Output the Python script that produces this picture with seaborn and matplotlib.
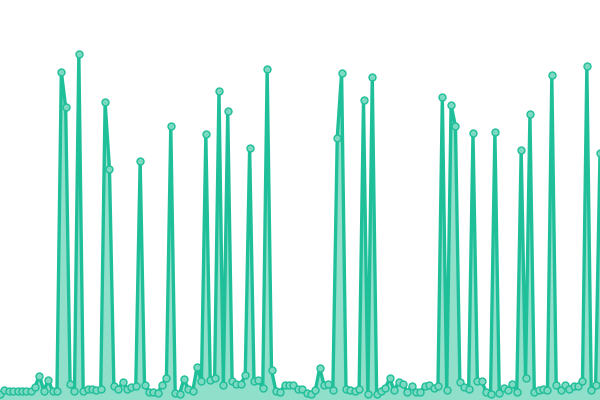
import matplotlib
matplotlib.use("Agg")
import matplotlib.pyplot as plt
import seaborn as sns
import pandas as pd
import numpy as np

sns.set_theme(style="white")

idx = list(range(138))
values = [
    6, 10.5, 9.3, 9.3, 9.3, 9.3, 9.3, 9.3, 13.3, 24.3,
    9.3, 20, 9.3, 9, 328.3, 292.7, 16, 9, 346.3, 9.3,
    11, 10.7, 10.3, 11.3, 297.7, 231, 14, 10.7, 18.3, 11,
    12.7, 13.7, 239.3, 15, 8.3, 7.7, 7.3, 15, 22.3, 274.3,
    7.3, 6.3, 21, 11, 9, 33, 19, 266, 20, 21.7,
    309, 15, 288.7, 19, 15.7, 15.7, 25, 252.3, 19, 19.7,
    12.3, 331, 29.7, 9, 8.3, 15, 15.3, 15, 11, 10.7,
    7.3, 6.3, 9.7, 32, 15, 15.7, 9.7, 262.3, 327.3, 11.3,
    10.3, 9, 11, 300, 6.3, 323.3, 6, 9, 12.3, 21.7,
    9.7, 17.7, 16.3, 8, 14.3, 8.3, 8.3, 14.3, 15, 12,
    14.3, 303, 10, 295, 273.7, 18.3, 13, 10.7, 267.3, 19,
    18.7, 8.3, 6, 268.3, 6.7, 11.7, 10.3, 16.3, 8.3, 250.3,
    22.3, 286, 7.7, 9.7, 11, 10.3, 325, 15, 9.7, 15,
    11.3, 14, 14.3, 19, 334, 10.3, 14.7, 246.7,
]

df = pd.DataFrame({"i": idx, "v": values})

line_c = "#1fbf99"
fill_c = "#8fdfcb"
face_c = "#7dd9c1"

fig = plt.figure(figsize=(6, 4), dpi=100)
ax = fig.add_axes([0, 0, 1, 1])
ax.fill_between(df["i"], df["v"], 0, color=fill_c, alpha=1.0, lw=0, zorder=1)
sns.lineplot(data=df, x="i", y="v", ax=ax, color=line_c, lw=2.4, zorder=2,
             marker="o", markersize=5, markerfacecolor=face_c,
             markeredgecolor=line_c, markeredgewidth=1.0)
ax.set_xlim(0, 137)
ax.set_ylim(0, 400)
ax.axis("off")
fig.savefig("out.png", dpi=100)
